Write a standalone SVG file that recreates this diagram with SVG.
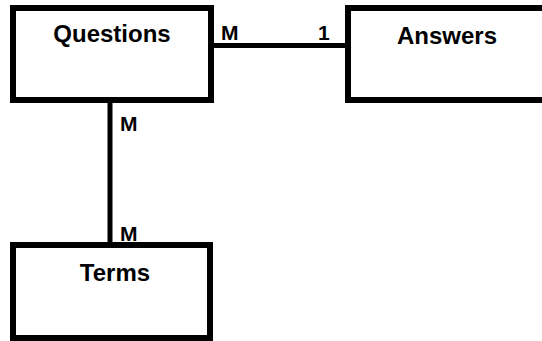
<svg xmlns="http://www.w3.org/2000/svg" width="542" height="341" viewBox="0 0 542 341">
  <style>
    .entity { fill: #ffffff; stroke: #000000; stroke-width: 6; }
    .link { stroke: #000000; stroke-width: 5; fill: none; }
    .name { font-family: "Liberation Sans", Arial, sans-serif; font-weight: bold; font-size: 24px; fill: #000000; text-anchor: middle; }
    .card { font-family: "Liberation Sans", Arial, sans-serif; font-weight: bold; font-size: 21px; fill: #000000; }
  </style>
  <rect width="542" height="341" fill="#ffffff"/>
  <g id="connectors">
    <line class="link" x1="211" y1="45.5" x2="348" y2="45.5"/>
    <line class="link" x1="110" y1="100" x2="110" y2="245"/>
    <text class="card" x="221" y="40">M</text>
    <text class="card" x="318" y="40">1</text>
    <text class="card" x="120" y="131">M</text>
    <text class="card" x="120" y="241">M</text>
  </g>
  <g id="questions">
    <rect class="entity" x="13" y="8" width="198" height="92"/>
    <text class="name" x="112" y="42">Questions</text>
  </g>
  <g id="answers">
    <rect class="entity" x="348" y="8" width="200" height="92"/>
    <text class="name" x="447" y="44">Answers</text>
  </g>
  <g id="terms">
    <rect class="entity" x="13" y="245" width="197" height="93"/>
    <text class="name" x="115" y="281">Terms</text>
  </g>
</svg>
